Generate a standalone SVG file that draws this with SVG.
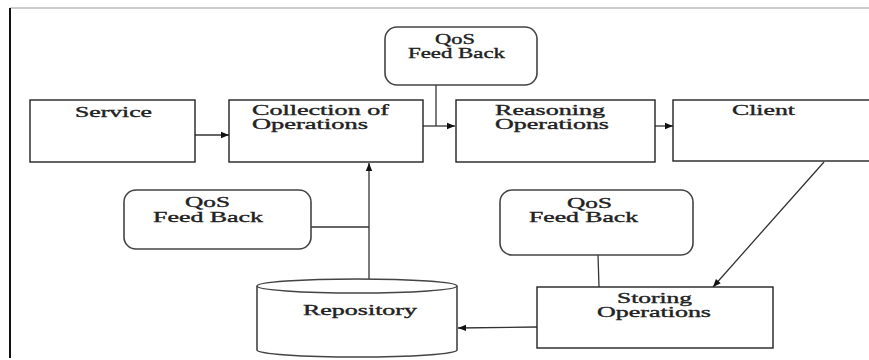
<svg xmlns="http://www.w3.org/2000/svg" width="869" height="360" viewBox="0 0 869 360">
<style>
.box{fill:#fff;stroke:#222;stroke-width:1.4}
.rbox{fill:#fff;stroke:#444;stroke-width:1.6}
.ln{fill:none;stroke:#333;stroke-width:1.3}
text{font-family:"Liberation Serif","Times New Roman",serif;font-size:14px;fill:#222;stroke:#222;stroke-width:0.35;font-weight:normal}
</style>
<defs>
<marker id="ah" viewBox="0 0 10 10" refX="10" refY="5" markerWidth="10" markerHeight="8" markerUnits="userSpaceOnUse" orient="auto">
<path d="M0,1 L10,5 L0,9 Z" fill="#111"/>
</marker>
</defs>
<rect width="869" height="360" fill="#fff"/>
<g id="frame">
<line x1="10" y1="8" x2="869" y2="8" stroke="#999" stroke-width="1.2"/>
<line x1="10" y1="8" x2="10" y2="358" stroke="#111" stroke-width="2"/>
</g>
<g id="connectors">
<line class="ln" x1="195" y1="135" x2="229" y2="135" marker-end="url(#ah)"/>
<polyline class="ln" points="423,126 455,126" marker-end="url(#ah)"/>
<line class="ln" x1="436" y1="85" x2="436" y2="126"/>
<line class="ln" x1="655" y1="126" x2="673" y2="126" marker-end="url(#ah)"/>
<line class="ln" x1="824" y1="162" x2="713" y2="287" marker-end="url(#ah)"/>
<line class="ln" x1="598" y1="255" x2="599" y2="287"/>
<line class="ln" x1="537" y1="327" x2="458" y2="328" marker-end="url(#ah)"/>
<line class="ln" x1="369" y1="279" x2="369" y2="163" marker-end="url(#ah)"/>
<line class="ln" x1="311" y1="227" x2="369" y2="227"/>
</g>
<g id="service">
<rect class="box" x="30" y="100" width="165" height="62"/>
<text x="75" y="117" textLength="77" lengthAdjust="spacingAndGlyphs">Service</text>
</g>
<g id="collection">
<rect class="box" x="229" y="100" width="194" height="62"/>
<text x="252" y="115" textLength="137" lengthAdjust="spacingAndGlyphs">Collection of</text>
<text x="252" y="129" textLength="116" lengthAdjust="spacingAndGlyphs">Operations</text>
</g>
<g id="qos-top">
<rect class="rbox" x="385" y="27" width="152" height="58" rx="12"/>
<text x="435" y="44" textLength="40" lengthAdjust="spacingAndGlyphs">QoS</text>
<text x="408" y="58" textLength="97" lengthAdjust="spacingAndGlyphs">Feed Back</text>
</g>
<g id="reasoning">
<rect class="box" x="456" y="100" width="199" height="62"/>
<text x="495" y="115" textLength="110" lengthAdjust="spacingAndGlyphs">Reasoning</text>
<text x="495" y="129" textLength="114" lengthAdjust="spacingAndGlyphs">Operations</text>
</g>
<g id="client">
<rect class="box" x="673" y="100" width="210" height="61"/>
<text x="732" y="115" textLength="63" lengthAdjust="spacingAndGlyphs">Client</text>
</g>
<g id="qos-left">
<rect class="rbox" x="124" y="190" width="187" height="59" rx="12"/>
<text x="185" y="207" textLength="45" lengthAdjust="spacingAndGlyphs">QoS</text>
<text x="153" y="222" textLength="110" lengthAdjust="spacingAndGlyphs">Feed Back</text>
</g>
<g id="qos-right">
<rect class="rbox" x="500" y="190" width="193" height="65" rx="12"/>
<text x="567" y="208" textLength="45" lengthAdjust="spacingAndGlyphs">QoS</text>
<text x="529" y="222" textLength="109" lengthAdjust="spacingAndGlyphs">Feed Back</text>
</g>
<g id="storing">
<rect class="box" x="537" y="287" width="236" height="61"/>
<text x="617" y="303" textLength="75" lengthAdjust="spacingAndGlyphs">Storing</text>
<text x="597" y="317" textLength="114" lengthAdjust="spacingAndGlyphs">Operations</text>
</g>
<g id="repository">
<path d="M257,286 L257,350 A100,7 0 0 0 457,350 L457,286" fill="#fff" stroke="#444" stroke-width="1.6"/>
<ellipse cx="357" cy="286" rx="100" ry="7" fill="#fff" stroke="#444" stroke-width="1.4"/>
<text x="303" y="315" textLength="114" lengthAdjust="spacingAndGlyphs">Repository</text>
</g>
</svg>
